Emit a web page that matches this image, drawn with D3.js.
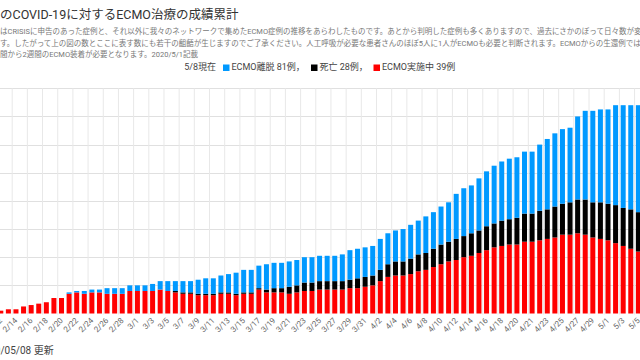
<!DOCTYPE html>
<html><head><meta charset="utf-8">
<script src="https://cdn.jsdelivr.net/npm/d3@7"></script>
<style>
body{margin:0;background:#fff;overflow:hidden}
svg{display:block}
text{font-family:Roboto,"Noto Sans CJK JP",sans-serif}
</style>
</head><body><svg id="c" width="640" height="360"></svg>
<script>
const dates = ["2/12","2/13","2/14","2/15","2/16","2/17","2/18","2/19","2/20","2/21","2/22","2/23","2/24","2/25","2/26","2/27","2/28","2/29",
"3/1","3/2","3/3","3/4","3/5","3/6","3/7","3/8","3/9","3/10","3/11","3/12","3/13","3/14","3/15","3/16","3/17","3/18","3/19","3/20","3/21","3/22","3/23","3/24","3/25","3/26","3/27","3/28","3/29","3/30","3/31",
"4/1","4/2","4/3","4/4","4/5","4/6","4/7","4/8","4/9","4/10","4/11","4/12","4/13","4/14","4/15","4/16","4/17","4/18","4/19","4/20","4/20","4/21","4/22","4/23","4/24","4/25","4/26","4/27","4/28","4/29","4/30",
"5/1","5/2","5/3","5/4","5/5"];
// ECMO実施中 (red)
const active = [2,3,3,5,6,7,8,11,11,14, 15,14,15,15,14,14,14,16,16,16, 16,17,16,15,14,14,13,13,13,14, 14,13,14,14,17,15,15,15,14,15, 16,16,17,17,17,17,18,18,19,20, 23,26,27,27,28,30,31,33,35,37, 38,40,41,43,45,47,48,49,49,51, 51,52,53,54,56,56,57,56,54,53, 52,50,48,46,44];
// 死亡 (black)
const deaths = [0,0,0,0,0,0,0,0,0,0, 0,0,0,0,0,0,0,0,0,0, 0,0,0,1,1,1,1,1,1,1, 1,1,1,1,1,2,3,3,5,5, 6,6,6,6,6,6,6,7,7,7, 8,9,10,10,11,12,12,13,14,14, 15,15,16,16,17,17,18,18,19,20, 20,21,21,22,22,23,24,25,25,26, 26,27,27,28,28];
// ECMO離脱 (blue)
const weaned = [0,0,0,0,0,0,0,0,0,1, 1,2,2,2,4,4,4,4,4,4, 5,6,7,7,8,8,10,11,11,12, 13,15,16,16,16,18,18,18,18,18, 18,18,18,18,18,19,21,21,21,21, 22,22,22,23,24,24,26,26,27,28, 32,34,34,37,39,41,42,43,43,44, 44,47,50,52,53,53,59,63,65,66, 67,71,73,74,76];
const yTicks = [0,20,40,60,80,100,120,140,160];
const seriesKeys = ["active","deaths","weaned"];
const seriesColors = {active:"#ff0000", deaths:"#000000", weaned:"#0099ff"};
const legendItems = [
  {key:"weaned", label:"ECMO離脱 81例，"},
  {key:"deaths", label:"死亡 28例，"},
  {key:"active", label:"ECMO実施中 39例"}
];
const titleText = "のCOVID-19に対するECMO治療の成績累計";
const noteLines = [
  "はCRISISに申告のあった症例と、それ以外に我々のネットワークで集めたECMO症例の推移をあらわしたものです。あとから判明した症例も多くありますので、過去にさかのぼって日々数が変",
  "す。したがって上の図の数とここに表す数にも若干の齟齬が生じますのでご了承ください。人工呼吸が必要な患者さんのほぼ5人に1人がECMOも必要と判断されます。ECMOからの生還例では",
  "間から2週間のECMO装着が必要となります。2020/5/1記載"
];

const rows = dates.map((d,i)=>({i, date:d, active:active[i], deaths:deaths[i], weaned:weaned[i]}));
const svg = d3.select("#c");

const x = d3.scaleBand().domain(rows.map(r=>r.i)).range([-3.0, 642.15]).paddingInner(0.34).paddingOuter(0.17);
const y = d3.scaleLinear().domain([0,160]).range([313.5, 88.3]);
const step = x.step();

// horizontal gridlines
svg.append("g").selectAll("line").data(yTicks.slice(1)).join("line")
  .attr("x1",0).attr("x2",640).attr("y1",d=>Math.round(y(d))+0.5).attr("y2",d=>Math.round(y(d))+0.5)
  .attr("stroke","#e0e0e0").attr("stroke-width",1);
// vertical gridlines
svg.append("g").selectAll("line").data(rows.filter(r=>r.i%2===0)).join("line")
  .attr("x1",d=>x(d.i)-(step-x.bandwidth())/2).attr("x2",d=>x(d.i)-(step-x.bandwidth())/2)
  .attr("y1",y(160)).attr("y2",y(0)+1)
  .attr("stroke","#e8e8e8").attr("stroke-width",1);

const stacked = d3.stack().keys(seriesKeys)(rows);
svg.append("g").selectAll("g").data(stacked).join("g")
  .attr("fill",s=>seriesColors[s.key])
  .selectAll("rect").data(s=>s).join("rect")
  .attr("x",d=>x(d.data.i)).attr("width",x.bandwidth())
  .attr("y",d=>y(d[1])).attr("height",d=>y(d[0])-y(d[1]));

// x axis
const xAxis = d3.axisBottom(x).tickValues(rows.filter(r=>r.i%2===0).map(r=>r.i))
  .tickFormat(i=>dates[i]).tickSize(0);
const ax = svg.append("g").attr("transform","translate(0,318)").call(xAxis);
ax.select(".domain").remove();
ax.selectAll("text")
  .attr("font-size",8).attr("fill","#666").attr("font-family",'Roboto,"Noto Sans CJK JP",sans-serif')
  .attr("text-anchor","end").attr("y",0).attr("dy","0.35em")
  .attr("transform","translate(0,1) rotate(-45)");

// title
svg.append("text").attr("x",0).attr("y",19).attr("font-size",12.5).attr("fill","#333").text(titleText);
// notes
svg.append("g").selectAll("text").data(noteLines).join("text")
  .attr("x",0).attr("y",(d,i)=>34+i*11.7).attr("font-size",7.5).attr("fill","#777").text(d=>d);

// legend
const lg = svg.append("g").attr("font-size",9).attr("fill","#444");
lg.append("text").attr("x",216).attr("y",70).attr("text-anchor","end").text("5/8現在");
const lx = [223, 311, 373.5];
legendItems.forEach((it,k)=>{
  lg.append("rect").attr("x",lx[k]).attr("y",64.5).attr("width",6.5).attr("height",6.5).attr("fill",seriesColors[it.key]);
  lg.append("text").attr("x",lx[k]+8.5).attr("y",70).text(it.label);
});

// footer
svg.append("text").attr("x",-22).attr("y",354).attr("font-size",10).attr("fill","#444").text("2020/05/08 更新");
</script>
</body></html>
